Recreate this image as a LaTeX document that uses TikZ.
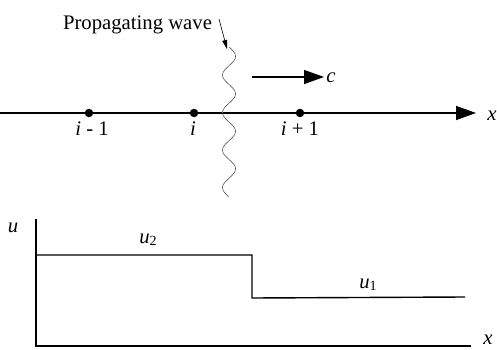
\documentclass[tikz,border=0pt]{standalone}
\usepackage{fontspec}
\setmainfont{Liberation Serif}
\usetikzlibrary{arrows.meta}
\begin{document}
\begin{tikzpicture}[x=1pt,y=-1pt,
  axis/.style={line width=1.4pt},
  bigarrow/.style={axis,-{Triangle[length=20pt,width=14pt]}},
  dot/.style={circle,fill=black,inner sep=0pt,minimum size=8.5pt},
  lbl/.style={font=\fontsize{20.7}{24}\selectfont,inner sep=0pt,anchor=base},
  wave/.style={line width=0.6pt,draw=black!65}]
\useasboundingbox (0,0) rectangle (497,350);
% top axis
\coordinate (a0) at (0,113);
\coordinate (a1) at (476,113);
\draw[bigarrow] (a0) -- (a1);
\node[lbl] (xlab) at (492,120) {\textit{x}};
\node[dot] (p1) at (89,113) {};
\node[dot] (p2) at (194,113) {};
\node[dot] (p3) at (300,113) {};
\node[lbl] (l1) at (92,135) {\textit{i} - 1};
\node[lbl] (l2) at (193,135) {\textit{i}};
\node[lbl] (l3) at (300,135) {\textit{i} + 1};
% wave
\draw[wave] plot[variable=\t,domain=0:150,samples=151] ({229+6.5*sin(\t*9.6)},{47+\t});
\node[lbl] (pw) at (137.5,30) {Propagating wave};
\coordinate (pws) at (219,19);
\coordinate (pwe) at (227,49);
\draw[line width=0.6pt,-{Triangle[length=9pt,width=5pt]}] (pws) -- (pwe);
% c arrow
\coordinate (c0) at (252,77);
\coordinate (c1) at (324,77);
\draw[bigarrow] (c0) -- (c1);
\node[lbl] (clab) at (331,83) {\textit{c}};
% bottom plot
\coordinate (o) at (36,346);
\coordinate (ytop) at (36,219);
\coordinate (xend) at (471,346);
\draw[axis] (ytop) -- (o) -- (xend);
\node[lbl] (ulab) at (13,232) {\textit{u}};
\node[lbl] (xlab2) at (488,344) {\textit{x}};
\coordinate (s0) at (36,255);
\coordinate (s1) at (252,255);
\coordinate (s2) at (252,298);
\coordinate (s3) at (465,297);
\draw[axis] (s0) -- (s1) -- (s2) -- (s3);
\node[lbl] (u2) at (148,243) {\textit{u}\raisebox{-0.3ex}{\fontsize{14}{16}\selectfont 2}};
\node[lbl] (u1) at (368,288) {\textit{u}\raisebox{-0.3ex}{\fontsize{14}{16}\selectfont 1}};
\end{tikzpicture}
\end{document}
